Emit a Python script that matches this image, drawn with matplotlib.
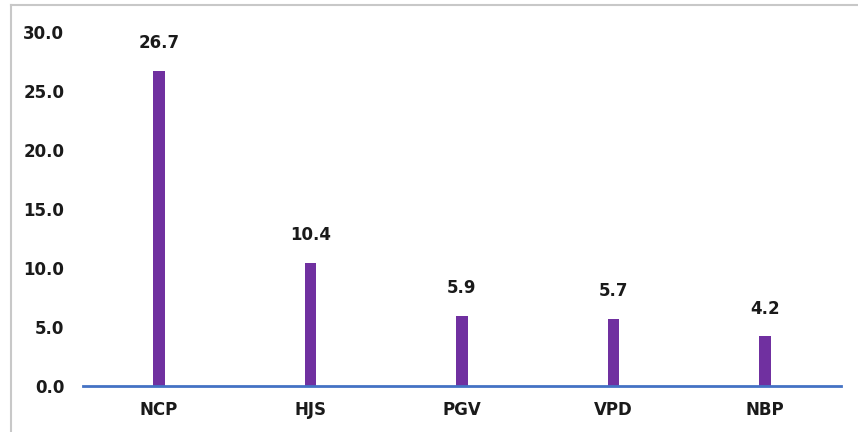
import matplotlib.pyplot as plt
from matplotlib.lines import Line2D

# data
categories = ['NCP', 'HJS', 'PGV', 'VPD', 'NBP']
values = [26.7, 10.4, 5.9, 5.7, 4.2]

plt.rcParams['font.family'] = ['DejaVu Sans']

fig = plt.figure(figsize=(8.58, 4.32), dpi=100)
ax = fig.add_axes([0.0967, 0.1065, 0.8834, 0.8195])

x = range(len(categories))
bars = ax.bar(x, values, width=0.076, color='#7030A0', zorder=2)

for xi, v in zip(x, values):
    ax.text(xi, v + 1.6, f'{v:.1f}', ha='center', va='bottom',
            fontsize=12, fontweight='bold', color='#1a1a1a')

ax.set_xlim(-0.5, 4.5)
ax.set_ylim(0, 30)
ax.set_yticks([0, 5, 10, 15, 20, 25, 30])
ax.set_yticklabels([f'{t:.1f}' for t in [0, 5, 10, 15, 20, 25, 30]])
ax.set_xticks(list(x))
ax.set_xticklabels(categories)

for s in ['top', 'right', 'left']:
    ax.spines[s].set_visible(False)
ax.spines['bottom'].set_color('#4472C4')
ax.spines['bottom'].set_linewidth(2)
ax.spines['bottom'].set_zorder(3)

ax.tick_params(axis='both', length=0, labelsize=12, colors='#1a1a1a')
ax.tick_params(axis='y', pad=13.5)
ax.tick_params(axis='x', pad=11)
for lbl in ax.get_xticklabels() + ax.get_yticklabels():
    lbl.set_fontweight('bold')

# outer frame (top and left edges)
fig.add_artist(Line2D([11 / 858, 11 / 858], [0, 1 - 4.5 / 432], transform=fig.transFigure,
                      color='#c8c8c8', linewidth=1.5))
fig.add_artist(Line2D([11 / 858, 1], [1 - 4.5 / 432, 1 - 4.5 / 432], transform=fig.transFigure,
                      color='#c8c8c8', linewidth=1.5))

fig.savefig('out.png', dpi=100)
